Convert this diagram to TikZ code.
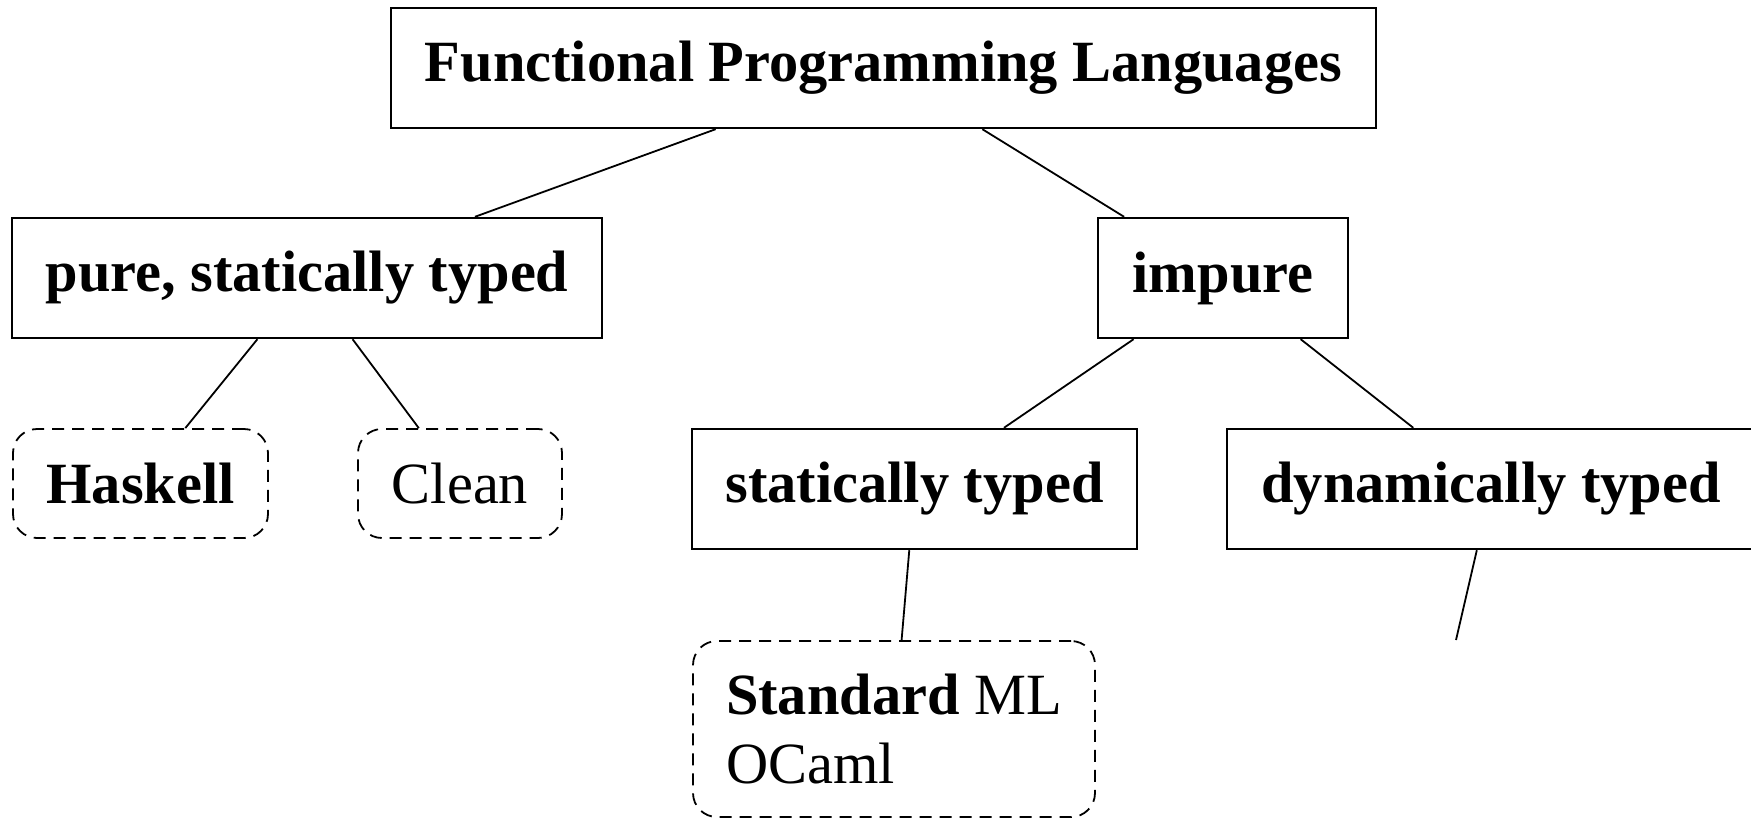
\documentclass[tikz,border=0pt]{standalone}
\usepackage{fontspec}
\setmainfont{Liberation Serif}
\tikzset{
  catbox/.style={draw, line width=1.2pt, rectangle, inner sep=0pt, minimum height=60pt,
    font=\fontsize{29.2}{34.8}\selectfont\bfseries},
  langbox/.style={draw, line width=0.9pt, dash pattern=on 6pt off 4pt, rounded corners=12pt,
    inner sep=0pt, font=\fontsize{29.2}{34.8}\selectfont},
  link/.style={line width=0.9pt}
}
\begin{document}
\begin{tikzpicture}[x=0.5pt, y=-0.5pt]
\useasboundingbox (0,0) rectangle (1751,820);
\node[catbox, minimum width=492.5pt] (root) at (883.5,68) {Functional Programming Languages};
\node[catbox, minimum width=295pt] (pure) at (307,278) {pure, statically typed};
\node[catbox, minimum width=125pt] (impure) at (1223,278) {impure};
\node[langbox, minimum width=127.5pt, minimum height=54.5pt] (haskell) at (140.5,483.5) {\bfseries Haskell};
\node[langbox, minimum width=102pt, minimum height=54.5pt] (clean) at (460,483.5) {Clean};
\node[catbox, minimum width=222.5pt] (static) at (914.5,489) {statically typed};
\node[catbox, minimum width=264pt] (dynamic) at (1491,489) {dynamically typed};
\node[langbox, minimum width=201pt, minimum height=88pt, align=left] (sml) at (894,729) {\textbf{Standard} ML\\OCaml};
\coordinate (dynend) at (1456,640);
\draw[link] (root) -- (pure);
\draw[link] (root) -- (impure);
\draw[link] (pure) -- (haskell);
\draw[link] (pure) -- (clean);
\draw[link] (impure) -- (static);
\draw[link] (impure) -- (dynamic);
\draw[link] (static) -- (sml);
\draw[link] (dynamic) -- (dynend);
\end{tikzpicture}
\end{document}
